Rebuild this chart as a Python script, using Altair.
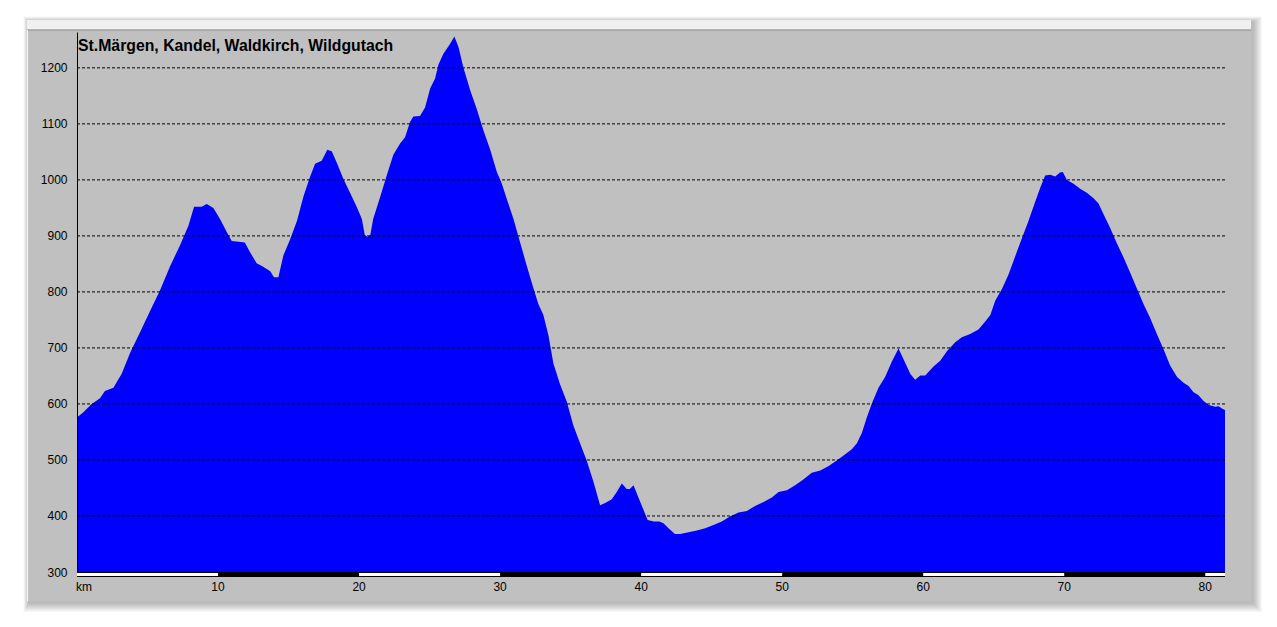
import altair as alt
import pandas as pd

# ---- data ----
km = [0.0, 0.45, 1.04, 1.63, 1.98, 2.58, 3.17, 3.76, 4.47, 5.18, 5.89, 6.6, 7.3, 7.9, 8.3, 8.84,
      9.2, 9.67, 10.14, 10.6, 10.97, 11.3, 11.9, 12.27, 12.74, 13.2, 13.7, 13.97, 14.28, 14.63,
      15.1, 15.6, 16.05, 16.5, 16.88, 17.35, 17.75, 18.06, 18.4, 18.9, 19.36, 19.83, 20.2, 20.4,
      20.6, 20.8, 21.0, 21.5, 21.96, 22.43, 22.91, 23.26, 23.62, 23.85, 24.32, 24.68, 25.04,
      25.39, 25.63, 25.98, 26.46, 26.76, 27.05, 27.4, 27.88, 28.35, 28.82, 29.3, 29.77, 30.1,
      30.5, 30.95, 31.4, 31.9, 32.37, 32.72, 33.07, 33.43, 33.78, 34.25, 34.73, 35.2, 35.67,
      36.14, 36.62, 37.09, 37.45, 37.92, 38.27, 38.63, 38.98, 39.2, 39.46, 39.81, 40.2, 40.46,
      40.9, 41.3, 41.58, 41.94, 42.4, 42.77, 43.36, 43.95, 44.54, 45.13, 45.72, 46.3, 46.9,
      47.5, 48.08, 48.68, 49.27, 49.74, 50.33, 50.92, 51.5, 52.1, 52.7, 53.27, 53.87, 54.35,
      54.94, 55.3, 55.65, 56.0, 56.36, 56.83, 57.3, 57.78, 58.25, 58.73, 59.08, 59.43, 59.79,
      60.14, 60.73, 61.21, 61.68, 62.27, 62.74, 63.33, 63.92, 64.4, 64.76, 65.1, 65.6, 66.05,
      66.5, 67.0, 67.47, 67.94, 68.3, 68.65, 69.0, 69.36, 69.7, 69.9, 70.19, 70.66, 71.13,
      71.6, 72.08, 72.43, 72.78, 73.26, 73.73, 74.2, 74.68, 75.15, 75.63, 76.1, 76.57, 77.05,
      77.5, 78.0, 78.46, 78.82, 79.17, 79.5, 79.9, 80.25, 80.7, 80.95, 81.18, 81.4]
elev = [576, 585, 600, 610, 623, 629, 654, 691, 728, 766, 803, 846, 883, 918, 952, 952,
        957, 950, 930, 908, 891, 890, 888, 871, 851, 845, 837, 826, 826, 865,
        893, 927, 970, 1004, 1029, 1034, 1054, 1051, 1032, 1001, 977, 952, 930, 902,
        898, 902, 930, 970, 1008, 1045, 1065, 1076, 1104, 1113, 1114, 1129, 1163,
        1181, 1206, 1225, 1243, 1256, 1237, 1200, 1160, 1126, 1088, 1054, 1014, 995,
        964, 930, 890, 846, 806, 778, 759, 722, 672, 635, 604, 561, 530,
        499, 461, 419, 423, 430, 443, 458, 448, 448, 455, 433, 409, 393,
        390, 390, 387, 378, 368, 368, 371, 374, 378, 384, 390, 399, 406,
        409, 418, 425, 433, 443, 446, 455, 465, 477, 481, 489, 499, 508,
        519, 530, 548, 576, 601, 629, 648, 676, 699, 673, 654, 643, 651,
        651, 667, 677, 694, 710, 719, 725, 733, 747, 759, 784, 806, 831,
        862, 896, 927, 961, 986, 1008, 1009, 1006, 1013, 1014, 1000, 993, 984,
        977, 967, 958, 939, 914, 887, 862, 834, 806, 778, 753, 725, 697,
        669, 648, 638, 632, 621, 616, 605, 598, 595, 596, 592, 589]

title_text = "St.Märgen, Kandel, Waldkirch, Wildgutach"
y_ticks = [300, 400, 500, 600, 700, 800, 900, 1000, 1100, 1200]
grid_vals = [400, 500, 600, 700, 800, 900, 1000, 1100, 1200]
x_tick_vals = [10, 20, 30, 40, 50, 60, 70, 80]
x_tick_labels = ["10", "20", "30", "40", "50", "60", "70", "80"]
km_label = "km"
bar_starts = [0, 10, 20, 30, 40, 50, 60, 70, 80]
bar_ends = [10, 20, 30, 40, 50, 60, 70, 80, 81.4]
bar_colors = ["white", "black", "white", "black", "white", "black", "white", "black", "white"]

X_MAX = 81.4
Y_MIN, Y_MAX = 300, 1264
W, H = 1148, 540
FONT = "Liberation Sans"

xs = alt.Scale(domain=[0, X_MAX], nice=False, zero=False)
ys = alt.Scale(domain=[Y_MIN, Y_MAX], nice=False, zero=False)

one = pd.DataFrame({"a": [0]})

# panel geometry (pixels relative to plot origin)
PX0, PX1, PY0, PY1 = -50, 1174, -2, 569

layers = []
# soft shadow
for k in range(1, 10):
    layers.append(
        alt.Chart(one).mark_rect(color="black", opacity=0.03).encode(
            x=alt.value(PX0 - k * 0.6 + 2), x2=alt.value(PX1 + k + 2),
            y=alt.value(-12 - k * 0.6 + 2), y2=alt.value(PY1 + k + 2),
        )
    )
# light top strip
layers.append(alt.Chart(one).mark_rect(color="#f0f0f0").encode(
    x=alt.value(PX0), x2=alt.value(PX1), y=alt.value(-12), y2=alt.value(PY0)))
# gray panel
layers.append(alt.Chart(one).mark_rect(color="#c0c0c0").encode(
    x=alt.value(PX0), x2=alt.value(PX1), y=alt.value(PY0), y2=alt.value(PY1)))
layers.append(alt.Chart(one).mark_rule(color="#a0a0a0", strokeWidth=1.5).encode(
    x=alt.value(PX0), x2=alt.value(PX1), y=alt.value(PY0)))
layers.append(alt.Chart(one).mark_rule(color="#f8f8f8", strokeWidth=1).encode(
    x=alt.value(PX0 + 0.5), y=alt.value(PY0), y2=alt.value(PY1)))

prof = pd.DataFrame({"km": km, "elev": elev})
area = alt.Chart(prof).mark_area(color="#0000ff", interpolate="linear").encode(
    x=alt.X("km:Q", scale=xs, axis=None),
    y=alt.Y("elev:Q", scale=ys, axis=alt.Axis(
        values=y_ticks, format="d", grid=False, ticks=False, domain=True, domainColor="black",
        domainWidth=1, labelPadding=10, labelFontSize=12, labelFont=FONT,
        labelColor="black", title=None, zindex=1, labelFlush=False, labelOverlap=False)),
    y2=alt.datum(Y_MIN),
)
layers.append(area)

grid = alt.Chart(pd.DataFrame({"g": grid_vals})).mark_rule(
    color="black", strokeDash=[3, 2], strokeWidth=1).encode(
    y=alt.Y("g:Q", scale=ys), x=alt.value(0), x2=alt.value(W))
layers.append(grid)

# km scale bar
layers.append(alt.Chart(pd.DataFrame({"s": [0], "e": [X_MAX]})).mark_rect(color="black").encode(
    x=alt.X("s:Q", scale=xs), x2="e:Q", y=alt.value(H), y2=alt.value(H + 5)))
bar_df = pd.DataFrame({"s": bar_starts, "e": bar_ends, "c": bar_colors})
layers.append(alt.Chart(bar_df).transform_filter("datum.c == 'white'").mark_rect(color="white").encode(
    x=alt.X("s:Q", scale=xs), x2="e:Q", y=alt.value(H + 1), y2=alt.value(H + 4)))

# x labels
layers.append(alt.Chart(pd.DataFrame({"v": x_tick_vals, "t": x_tick_labels})).mark_text(
    font=FONT, fontSize=12, color="black", align="center", baseline="alphabetic").encode(
    x=alt.X("v:Q", scale=xs), y=alt.value(H + 19), text="t:N"))
layers.append(alt.Chart(pd.DataFrame({"v": [0], "t": [km_label]})).mark_text(
    font=FONT, fontSize=12, color="black", align="left", baseline="alphabetic", dx=-1).encode(
    x=alt.X("v:Q", scale=xs), y=alt.value(H + 19), text="t:N"))

# title
layers.append(alt.Chart(pd.DataFrame({"t": [title_text]})).mark_text(
    font=FONT, fontSize=15.8, fontWeight="bold", color="black", align="left",
    baseline="alphabetic").encode(x=alt.value(1), y=alt.value(19), text="t:N"))

chart = alt.layer(*layers).properties(
    width=W, height=H,
    autosize=alt.AutoSizeParams(type="none"),
    padding={"left": 69, "top": 24, "right": 40, "bottom": 40},
    background="white",
).configure_view(strokeWidth=0)

chart.save("out.html", embed_options={"renderer": "svg", "actions": False})
